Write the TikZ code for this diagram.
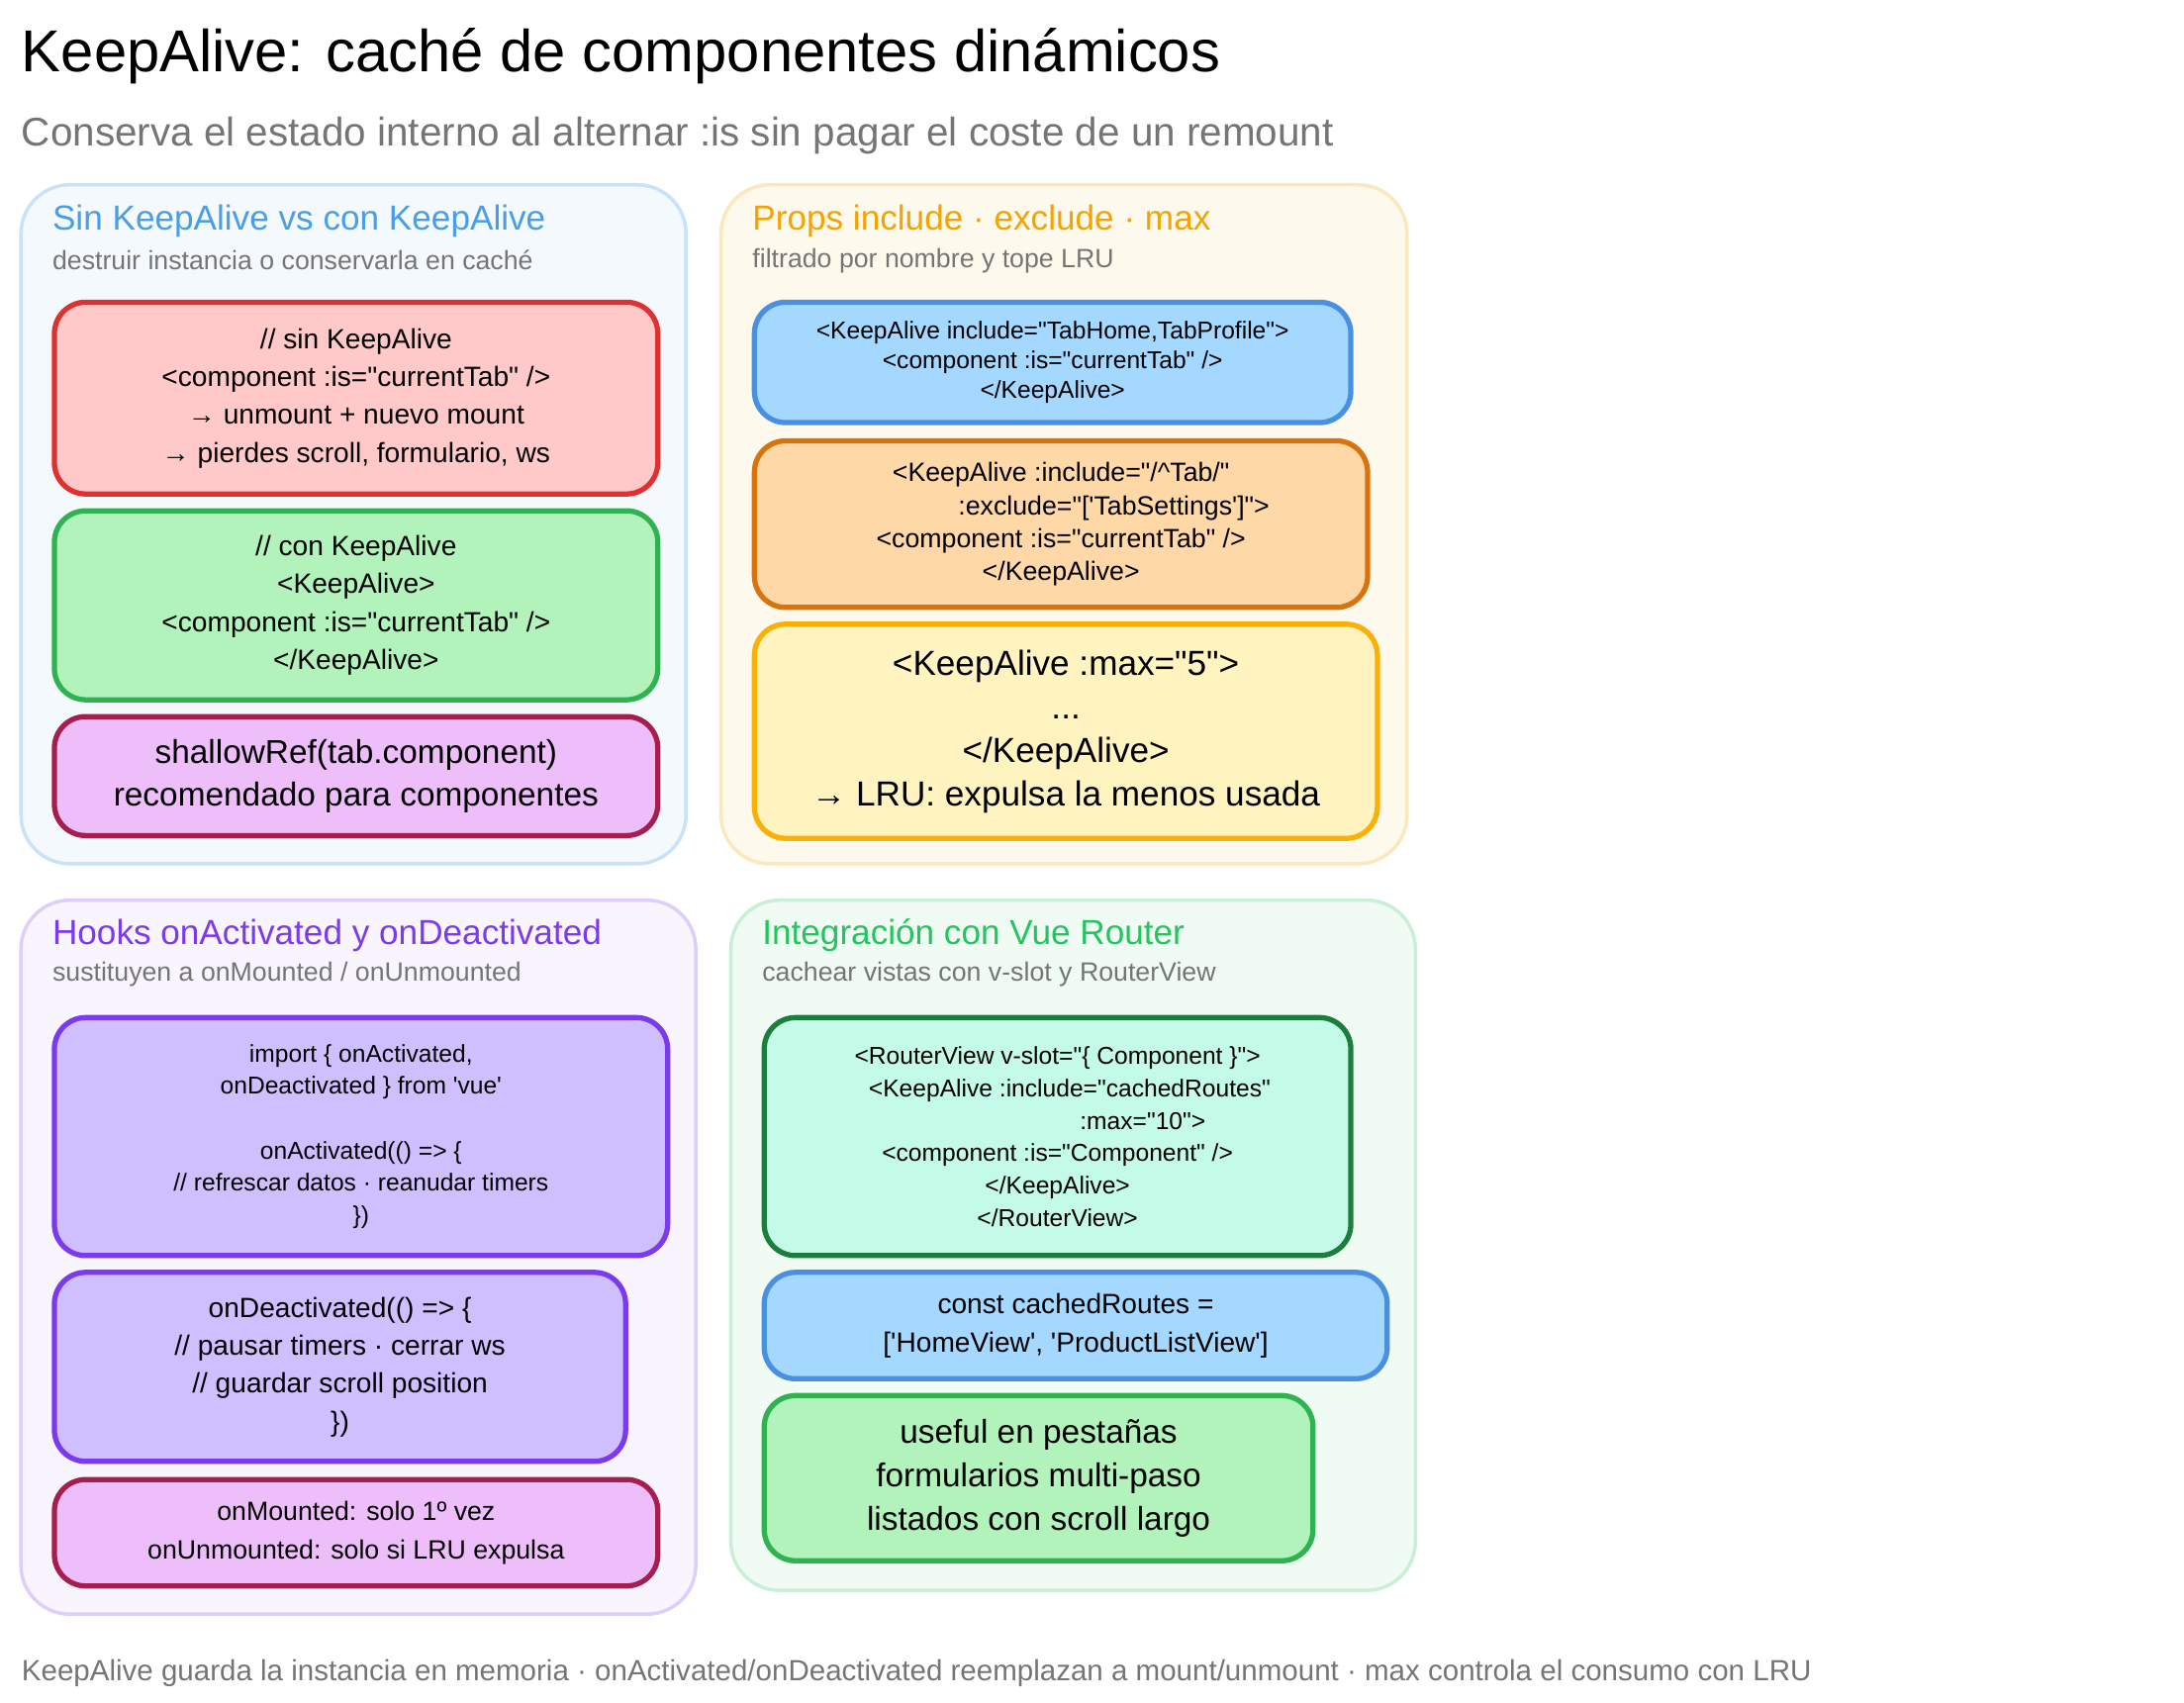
\documentclass[tikz,border=0pt]{standalone}
\usepackage{fontspec}
\setmainfont{Liberation Sans}[Ligatures=TeXOff]
\usetikzlibrary{positioning}
\newcommand\pxu{0.01415cm}
\newcommand\fs[2]{\fontsize{#1}{#2}\selectfont}
\definecolor{redfill}{HTML}{FFC9C9}\definecolor{redline}{HTML}{E03131}
\definecolor{grnfill}{HTML}{B2F2BB}\definecolor{grnline}{HTML}{2FB350}
\definecolor{pnkfill}{HTML}{EEBEFA}\definecolor{pnkline}{HTML}{A61E4D}
\definecolor{blufill}{HTML}{A5D8FF}\definecolor{bluline}{HTML}{4A90E2}
\definecolor{orafill}{HTML}{FFD8A8}\definecolor{oraline}{HTML}{D9730D}
\definecolor{yelfill}{HTML}{FFF3BF}\definecolor{yelline}{HTML}{FAB005}
\definecolor{purfill}{HTML}{D0BFFF}\definecolor{purline}{HTML}{7C3AED}
\definecolor{mntfill}{HTML}{C3FAE8}\definecolor{mntline}{HTML}{1B7F3B}
\definecolor{ttlblue}{HTML}{4A9EE8}\definecolor{ttlora}{HTML}{F5A300}
\definecolor{ttlpur}{HTML}{7C3AED}\definecolor{ttlgrn}{HTML}{22C55E}
\definecolor{txtgray}{HTML}{757575}

\begin{document}
\begin{tikzpicture}[
    x=\pxu, y=-\pxu,
    panel/.style={
        rounded corners=14pt,
        line width=1pt
    },
    cbox/.style={
        draw,
        rounded corners=9pt,
        line width=1.5pt,
        align=center,
        anchor=north west,
        inner sep=2pt,
        font=\fs{8pt}{10.9pt}
    },
    ptitle/.style={anchor=west, inner sep=0pt, font=\fs{10pt}{12pt}},
    psub/.style={anchor=west, inner sep=0pt, text=txtgray, font=\fs{7.6pt}{9pt}}
]
\useasboundingbox (0,0) rectangle (1560,1216);

% Title
\node[anchor=west, inner sep=0pt, font=\fs{17pt}{20pt}] (title) at (15,40) {KeepAlive: caché de componentes dinámicos};
\node[anchor=west, inner sep=0pt, text=txtgray, font=\fs{11.5pt}{14pt}] (subtitle) at (15,97) {Conserva el estado interno al alternar :is sin pagar el coste de un remount};

% Panels
\draw[panel, fill=ttlblue!6, draw=ttlblue!30] (15,132) rectangle (490,617);
\draw[panel, fill=ttlora!7, draw=ttlora!25] (515,132) rectangle (1005,617);
\draw[panel, fill=ttlpur!5, draw=ttlpur!25] (15,643) rectangle (497,1153);
\draw[panel, fill=ttlgrn!7, draw=ttlgrn!25] (522,643) rectangle (1011,1136);

% Panel 1
\node[ptitle, text=ttlblue] (t1) at (37,158) {Sin KeepAlive vs con KeepAlive};
\node[psub] (s1) at (37,186) {destruir instancia o conservarla en caché};
\node[cbox, fill=redfill, draw=redline, minimum width=431*\pxu, minimum height=137*\pxu] (sinka) at (37,214) {
    // sin KeepAlive\\ <component :is="currentTab" />\\ → unmount + nuevo mount\\ → pierdes scroll, formulario, ws};
\node[cbox, fill=grnfill, draw=grnline, minimum width=431*\pxu, minimum height=135*\pxu] (conka) at (37,363) {
    // con KeepAlive\\ <KeepAlive>\\ <component :is="currentTab" />\\ </KeepAlive>};
\node[cbox, fill=pnkfill, draw=pnkline, minimum width=431*\pxu, minimum height=85*\pxu, font=\fs{9.5pt}{12pt}] (shallow) at (37,510) {
    shallowRef(tab.component)\\ recomendado para componentes};

% Panel 2
\node[ptitle, text=ttlora] (t2) at (537,158) {Props include · exclude · max};
\node[psub] (s2) at (537,186) {filtrado por nombre y tope LRU};
\node[cbox, fill=blufill, draw=bluline, minimum width=426*\pxu, minimum height=86*\pxu, font=\fs{7pt}{8.6pt}] (incl) at (537,214) {
    <KeepAlive include="TabHome,TabProfile">\\ <component :is="currentTab" />\\ </KeepAlive>};
\node[cbox, fill=orafill, draw=oraline, minimum width=438*\pxu, minimum height=119*\pxu, font=\fs{7.6pt}{9.4pt}] (excl) at (537,313) {
    <KeepAlive :include="/\textasciicircum Tab/"\hspace{2.6em}\\ \hspace{4em}:exclude="['TabSettings']">\\ <component :is="currentTab" />\\ </KeepAlive>};
\node[cbox, fill=yelfill, draw=yelline, minimum width=445*\pxu, minimum height=153*\pxu, font=\fs{10pt}{12.5pt}] (maxka) at (537,444) {
    <KeepAlive :max="5">\\ ...\\ </KeepAlive>\\ → LRU: expulsa la menos usada};

% Panel 3
\node[ptitle, text=ttlpur] (t3) at (37,668) {Hooks onActivated y onDeactivated};
\node[psub] (s3) at (37,696) {sustituyen a onMounted / onUnmounted};
\node[cbox, fill=purfill, draw=purline, minimum width=438*\pxu, minimum height=170*\pxu, font=\fs{7pt}{9.3pt}] (act) at (37,725) {
    import \{ onActivated,\\ onDeactivated \} from 'vue'\\[9.3pt] onActivated(() => \{\\ // refrescar datos · reanudar timers\\ \})};
\node[cbox, fill=purfill, draw=purline, minimum width=408*\pxu, minimum height=135*\pxu, font=\fs{8pt}{10.9pt}] (deact) at (37,907) {
    onDeactivated(() => \{\\ // pausar timers · cerrar ws\\ // guardar scroll position\\ \})};
\node[cbox, fill=pnkfill, draw=pnkline, minimum width=431*\pxu, minimum height=76*\pxu, font=\fs{7.6pt}{10.9pt}] (mounted) at (37,1055) {
    onMounted: solo 1º vez\\ onUnmounted: solo si LRU expulsa};

% Panel 4
\node[ptitle, text=ttlgrn] (t4) at (544,668) {Integración con Vue Router};
\node[psub] (s4) at (544,696) {cachear vistas con v-slot y RouterView};
\node[cbox, fill=mntfill, draw=mntline, minimum width=419*\pxu, minimum height=170*\pxu, font=\fs{7pt}{9.3pt}] (router) at (544,725) {
    <RouterView v-slot="\{ Component \}">\\ \hspace{1em}<KeepAlive :include="cachedRoutes"\\ \hspace{7em}:max="10">\\ <component :is="Component" />\\ </KeepAlive>\\ </RouterView>};
\node[cbox, fill=blufill, draw=bluline, minimum width=445*\pxu, minimum height=76*\pxu, font=\fs{8pt}{10.9pt}] (routes) at (544,907) {
    const cachedRoutes =\\{}['HomeView', 'ProductListView']};
\node[cbox, fill=grnfill, draw=grnline, minimum width=392*\pxu, minimum height=118*\pxu, font=\fs{9.5pt}{12.5pt}] (useful) at (544,995) {
    useful en pestañas\\ formularios multi-paso\\ listados con scroll largo};

% Footer
\node[anchor=west, inner sep=0pt, text=txtgray, font=\fs{8.4pt}{10pt}] (footer) at (15,1195) {KeepAlive guarda la instancia en memoria · onActivated/onDeactivated reemplazan a mount/unmount · max controla el consumo con LRU};

\end{tikzpicture}
\end{document}
